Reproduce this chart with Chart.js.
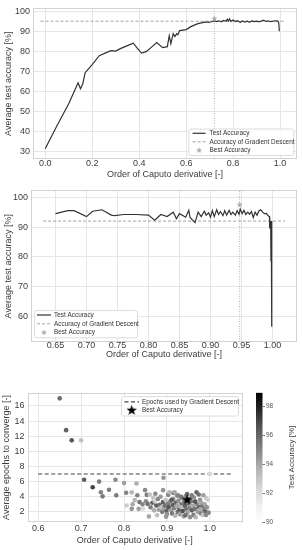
<!DOCTYPE html>
<html>
<head>
<meta charset="utf-8">
<script src="https://cdn.jsdelivr.net/npm/chart.js@4/dist/chart.umd.min.js"></script>
<style>
  html, body { margin: 0; padding: 0; background: #fff; }
  #wrap { position: relative; width: 302px; height: 550px; }
  canvas { position: absolute; left: 0; }
</style>
</head>
<body>
<div id="wrap">
  <canvas id="c1" width="302" height="182" style="top:0px"></canvas>
  <canvas id="c2" width="302" height="183" style="top:182px"></canvas>
  <canvas id="c3" width="302" height="185" style="top:365px"></canvas>
</div>
<script>
// ---- panel 1: accuracy vs order, full range ----
const order1 = [0.00, 0.05, 0.10, 0.14, 0.15, 0.16, 0.17, 0.20, 0.23, 0.26, 0.28, 0.30, 0.32, 0.35, 0.375, 0.39, 0.41, 0.43, 0.45, 0.475, 0.50, 0.52, 0.528, 0.535, 0.545, 0.552, 0.56, 0.565, 0.572, 0.60, 0.62, 0.65, 0.68, 0.70, 0.72, 0.73, 0.74, 0.75, 0.76, 0.77, 0.775, 0.78, 0.785, 0.79, 0.80, 0.81, 0.82, 0.83, 0.84, 0.85, 0.86, 0.87, 0.88, 0.89, 0.90, 0.91, 0.92, 0.93, 0.94, 0.95, 0.96, 0.97, 0.98, 0.99, 0.994, 0.997];
const acc1 = [31.5, 43.0, 54.0, 64.5, 61.5, 64.0, 69.5, 73.5, 78.0, 79.5, 80.5, 80.3, 81.5, 83.0, 84.2, 82.0, 79.3, 80.0, 82.0, 84.5, 82.0, 82.5, 88.0, 84.0, 89.0, 87.5, 89.0, 88.5, 90.5, 91.0, 92.5, 94.0, 94.7, 94.7, 95.3, 95.0, 95.4, 94.9, 95.6, 95.2, 96.2, 95.3, 96.4, 95.1, 95.8, 95.0, 95.5, 94.6, 95.3, 94.8, 95.2, 94.7, 95.4, 95.0, 95.2, 94.9, 95.3, 95.7, 95.1, 95.3, 95.0, 95.2, 95.4, 95.3, 94.6, 90.2];
const gdAcc1 = 95.2;
const best1 = { x: 0.72, y: 96.5 };
const xTicks1 = [0.0, 0.2, 0.4, 0.6, 0.8, 1.0];
const yTicks1 = [30, 40, 50, 60, 70, 80, 90, 100];

// ---- panel 2: accuracy vs order, 0.65 - 1.0 ----
const order2 = [0.65, 0.67, 0.68, 0.70, 0.71, 0.725, 0.74, 0.745, 0.76, 0.78, 0.80, 0.81, 0.82, 0.83, 0.84, 0.845, 0.85, 0.86, 0.865, 0.867, 0.875, 0.88, 0.885, 0.89, 0.893, 0.897, 0.90, 0.903, 0.906, 0.91, 0.913, 0.916, 0.92, 0.923, 0.926, 0.93, 0.933, 0.936, 0.94, 0.943, 0.946, 0.948, 0.951, 0.954, 0.957, 0.96, 0.963, 0.966, 0.969, 0.972, 0.975, 0.978, 0.981, 0.984, 0.987, 0.99, 0.993, 0.995, 0.9955, 0.997, 0.9975, 0.998, 0.9985, 0.999];
const acc2 = [94.5, 95.5, 95.5, 93.5, 95.3, 95.8, 94.0, 93.8, 94.2, 94.2, 94.0, 92.3, 94.2, 93.5, 95.0, 92.8, 94.5, 93.3, 95.6, 93.2, 91.5, 95.0, 93.5, 95.3, 94.0, 94.8, 93.3, 95.5, 93.5, 95.8, 94.2, 95.2, 93.8, 95.5, 94.0, 95.6, 94.2, 95.0, 94.0, 95.5, 94.3, 96.0, 94.5, 95.6, 94.2, 95.0, 94.3, 95.2, 93.2, 95.0, 94.0, 95.4, 95.8, 95.0, 94.5, 94.6, 93.8, 93.5, 89.5, 92.0, 78.5, 92.0, 80.0, 56.5];
const gdAcc2 = 92.0;
const best2 = { x: 0.947, y: 97.5 };
const xTicks2 = [0.65, 0.70, 0.75, 0.80, 0.85, 0.90, 0.95, 1.00];
const yTicks2 = [60, 70, 80, 90, 100];

// ---- panel 3: epochs to converge, coloured by accuracy ----
const order3 = [0.650, 0.665, 0.678, 0.700, 1.000, 0.707, 0.727, 0.742, 0.746, 0.750, 0.765, 0.780, 0.782, 0.800, 0.805, 0.829, 0.892, 0.818, 0.831, 0.849, 0.853, 0.868, 0.891, 0.903, 0.915, 0.926, 0.969, 0.992,
  0.806, 0.818, 0.820, 0.825, 0.836, 0.844, 0.851, 0.855, 0.858, 0.862, 0.866, 0.870, 0.872, 0.875, 0.877, 0.879, 0.881, 0.883, 0.885, 0.887, 0.889, 0.891, 0.893, 0.895, 0.897, 0.899, 0.900, 0.902, 0.904, 0.906, 0.908, 0.910, 0.912, 0.913, 0.915, 0.917, 0.919, 0.920, 0.922, 0.924, 0.925, 0.927, 0.929, 0.930, 0.932, 0.934, 0.936, 0.937, 0.939, 0.940, 0.942, 0.944, 0.945, 0.948, 0.950, 0.952, 0.954, 0.956, 0.958, 0.960, 0.962, 0.963, 0.965, 0.967, 0.970, 0.972, 0.974, 0.975, 0.977, 0.979, 0.980, 0.982, 0.984, 0.986, 0.988, 0.990, 0.993, 0.995, 0.997,
  0.860, 0.873, 0.918, 0.933, 0.947, 0.958, 0.985, 0.843, 0.834, 0.898, 0.943, 0.926, 0.911, 0.953, 0.966, 0.978, 0.991];
const epochs3 = [17.0, 12.8, 11.45, 11.45, 7.0, 6.25, 5.25, 6.0, 4.6, 4.05, 4.92, 6.25, 4.18, 5.8, 4.52, 5.75, 6.5, 4.58, 4.2, 4.87, 4.25, 3.87, 4.87, 4.25, 4.5, 4.2, 4.58, 3.76,
  2.85, 2.40, 3.00, 3.55, 3.30, 2.44, 3.40, 3.05, 1.40, 2.60, 3.20, 2.20, 3.45, 2.85, 1.55, 3.70, 2.30, 2.95, 4.00, 2.60, 2.00, 3.30, 2.45, 2.85, 3.55, 2.10, 1.70, 3.05, 2.60, 4.60, 3.40, 2.25, 1.80, 2.90, 3.70, 2.50, 1.50, 3.20, 2.70, 4.15, 2.00, 3.50, 2.30, 1.70, 3.00, 2.60, 3.80, 2.10, 1.40, 3.30, 2.80, 4.10, 2.40, 1.90, 3.10, 2.50, 1.30, 3.40, 2.20, 2.80, 1.60, 3.90, 2.40, 1.30, 3.00, 2.00, 4.30, 2.60, 3.60, 1.80, 3.20, 2.70, 1.60, 2.30, 3.00, 2.00, 2.60, 3.60, 1.90,
  4.30, 4.40, 4.60, 4.00, 4.35, 4.20, 4.20, 3.00, 2.40, 1.35, 1.55, 2.95, 3.60, 3.70, 3.35, 2.35, 1.60];
const testAcc3 = [95.8, 96.2, 96.5, 93.2, 92.3, 96.3, 97.0, 95.2, 95.0, 95.3, 95.2, 94.8, 95.3, 94.2, 95.0, 93.8, 94.5, 93.5, 95.0, 94.8, 95.2, 93.0, 94.5, 95.0, 95.2, 94.8, 96.0, 93.0,
  92.8, 94.5, 94.0, 93.5, 95.5, 92.2, 94.8, 95.6, 94.0, 95.2, 96.0, 93.8, 92.6, 96.2, 93.2, 95.0, 94.2, 95.8, 94.4, 93.0, 95.2, 96.4, 94.0, 95.6, 93.2, 96.2, 94.6, 95.2, 96.6, 93.6, 95.0, 94.2, 95.4, 96.2, 94.6, 95.2, 93.6, 96.0, 94.0, 95.0, 95.6, 94.6, 96.2, 94.2, 95.6, 93.4, 95.0, 96.6, 94.0, 95.2, 96.2, 94.6, 95.6, 94.2, 96.0, 95.0, 94.6, 95.6, 96.2, 94.0, 95.2, 94.6, 95.6, 93.6, 95.0, 94.2, 95.6, 96.2, 94.6, 95.2, 94.0, 95.6, 93.0, 95.2, 94.0, 96.2, 94.6, 92.6, 95.0,
  93.2, 94.8, 94.0, 95.4, 96.0, 95.2, 94.2, 95.0, 94.2, 94.4, 95.8, 93.8, 96.4, 95.4, 96.6, 93.8, 94.8];
const gdEpochs3 = 7;
const best3 = { x: 0.947, y: 3.6 };
const xTicks3 = [0.6, 0.7, 0.8, 0.9, 1.0];
const yTicks3 = [2, 4, 6, 8, 10, 12, 14, 16];
const cbTicks = [90, 92, 94, 96, 98];
const cbMin = 90, cbMax = 98.9;

// ---- shared look ----
const FONT = '"Liberation Sans", Arial, sans-serif';
Chart.defaults.font.family = FONT;
Chart.defaults.color = '#3c3c3c';
Chart.defaults.animation = false;
const GRID = '#e6e6e6', EDGE = '#d2d2d2';

// matplotlib "Greys"
const greys = [255, 240, 217, 189, 150, 115, 82, 37, 0];
function grey(acc) {
  let t = Math.min(1, Math.max(0, (acc - cbMin) / (cbMax - cbMin))) * (greys.length - 1);
  const i = Math.min(greys.length - 2, Math.floor(t));
  const g = Math.round(greys[i] + (greys[i + 1] - greys[i]) * (t - i));
  return `rgb(${g},${g},${g})`;
}

function makeStar(r, fill) {
  const c = document.createElement('canvas');
  c.width = c.height = Math.ceil(2 * r + 2);
  const g = c.getContext('2d');
  const cx = c.width / 2, cy = c.height / 2;
  g.beginPath();
  for (let i = 0; i < 10; i++) {
    const rr = i % 2 ? r * 0.42 : r;
    const a = -Math.PI / 2 + i * Math.PI / 5;
    g.lineTo(cx + rr * Math.cos(a), cy + rr * Math.sin(a));
  }
  g.closePath();
  g.fillStyle = fill;
  g.fill();
  return c;
}

const xy = (xs, ys) => xs.map((x, i) => ({ x, y: ys[i] }));
const setTicks = vals => s => { s.ticks = vals.map(v => ({ value: v })); };

function xAxis(min, max, ticks, dec, h, tickPad, titlePad) {
  return {
    type: 'linear', min, max,
    afterBuildTicks: setTicks(ticks),
    afterFit: s => { s.height = h; },
    grid: { color: GRID, drawTicks: false },
    border: { display: false },
    ticks: { padding: tickPad, font: { size: 9 }, autoSkip: false, maxRotation: 0, callback: v => v.toFixed(dec) },
    title: { display: true, text: 'Order of Caputo derivative [-]', font: { size: 9 }, padding: { top: 0, bottom: titlePad } }
  };
}
function yAxis(min, max, ticks, title, w, titlePad) {
  return {
    type: 'linear', min, max,
    afterBuildTicks: setTicks(ticks),
    afterFit: s => { s.width = w; },
    grid: { color: GRID, drawTicks: false },
    border: { display: false },
    ticks: { padding: 3, font: { size: 9 } },
    title: { display: true, text: title, font: { size: 9 }, padding: { top: titlePad, bottom: 0 } }
  };
}

const frame = {
  id: 'frame',
  beforeDatasetsDraw(chart) {
    const a = chart.chartArea, ctx = chart.ctx;
    ctx.save();
    ctx.strokeStyle = EDGE;
    ctx.lineWidth = 1;
    ctx.strokeRect(Math.round(a.left) + 0.5, Math.round(a.top) + 0.5, Math.round(a.right - a.left) - 1, Math.round(a.bottom - a.top) - 1);
    ctx.restore();
  }
};

// legend box inside the plot
const boxLegend = {
  id: 'boxLegend',
  afterDraw(chart, args, o) {
    if (!o || !o.w) return;
    const a = chart.chartArea, ctx = chart.ctx;
    const x = o.corner[1] === 'l' ? a.left + o.dx : a.right - o.dx - o.w;
    const y = o.corner[0] === 't' ? a.top + o.dy : a.bottom - o.dy - o.h;
    ctx.save();
    ctx.fillStyle = 'rgba(255,255,255,0.85)';
    ctx.strokeStyle = '#dcdcdc';
    ctx.lineWidth = 1;
    ctx.beginPath();
    ctx.roundRect(x + 0.5, y + 0.5, o.w, o.h, 2);
    ctx.fill();
    ctx.stroke();
    ctx.font = `${o.size}px ${FONT}`;
    ctx.textBaseline = 'middle';
    const items = chart.data.datasets.filter(d => d.label);
    items.forEach((d, i) => {
      const ry = y + o.first + i * o.row;
      if (d.showLine) {
        ctx.strokeStyle = d.borderColor;
        ctx.lineWidth = d.borderWidth;
        ctx.setLineDash(d.borderDash || []);
        ctx.beginPath();
        ctx.moveTo(x + o.s0, ry);
        ctx.lineTo(x + o.s1, ry);
        ctx.stroke();
        ctx.setLineDash([]);
      } else {
        Chart.helpers.drawPoint(ctx, { pointStyle: d.pointStyle, radius: 3, rotation: 0, borderWidth: 0 }, x + (o.s0 + o.s1) / 2, ry);
      }
      ctx.fillStyle = '#333';
      ctx.fillText(d.label, x + o.tx, ry);
    });
    ctx.restore();
  }
};

const colorbar = {
  id: 'colorbar',
  afterDraw(chart) {
    const cb = chart.scales.cb;
    if (!cb) return;
    const ctx = chart.ctx, a = chart.chartArea;
    const x0 = a.right + 14, w = 6.5;
    const y0 = cb.getPixelForValue(cbMin), y1 = cb.getPixelForValue(cbMax);
    const grad = ctx.createLinearGradient(0, y0, 0, y1);
    greys.forEach((g, i) => grad.addColorStop(i / (greys.length - 1), `rgb(${g},${g},${g})`));
    ctx.save();
    ctx.fillStyle = grad;
    ctx.fillRect(x0, y1, w, y0 - y1);
    ctx.strokeStyle = '#555';
    ctx.lineWidth = 0.8;
    cbTicks.forEach(v => {
      const y = Math.round(cb.getPixelForValue(v)) + 0.5;
      ctx.beginPath();
      ctx.moveTo(x0 + w, y);
      ctx.lineTo(x0 + w + 2.5, y);
      ctx.stroke();
    });
    ctx.translate(291.5, (a.top + a.bottom) / 2);
    ctx.rotate(-Math.PI / 2);
    ctx.font = `8px ${FONT}`;
    ctx.fillStyle = '#3c3c3c';
    ctx.textAlign = 'center';
    ctx.textBaseline = 'middle';
    ctx.fillText('Test Accuracy [%]', 0, 0);
    ctx.restore();
  }
};

const starGrey = makeStar(3.2, '#a8a8a8');
const starBlack = makeStar(5.5, '#000');

// ---- chart 1 ----
new Chart(document.getElementById('c1'), {
  type: 'scatter',
  data: {
    datasets: [
      { label: 'Test Accuracy', data: xy(order1, acc1), showLine: true, borderColor: '#333', borderWidth: 1.2, pointRadius: 0, order: 0 },
      { label: 'Accuracy of Gradient Descent', data: [{ x: -0.02, y: gdAcc1 }, { x: 1.02, y: gdAcc1 }], showLine: true, borderColor: '#999', borderWidth: 0.9, borderDash: [3, 2], pointRadius: 0, order: 2 },
      { label: 'Best Accuracy', data: [best1], pointStyle: starGrey, pointRadius: 3, order: 1 },
      { data: [{ x: best1.x, y: 26.4 }, { x: best1.x, y: 101.6 }], showLine: true, borderColor: '#aaa', borderWidth: 0.9, borderDash: [1, 1.5], pointRadius: 0, order: 3 }
    ]
  },
  options: {
    responsive: false,
    layout: { padding: { top: 4, right: 5, left: 0, bottom: 0 } },
    scales: {
      x: xAxis(-0.052, 1.072, xTicks1, 1, 23, -1, 2),
      y: yAxis(26.4, 101.6, yTicks1, 'Average test accuracy [%]', 33, 3.5)
    },
    plugins: {
      legend: { display: false }, tooltip: { enabled: false },
      boxLegend: { corner: 'br', dx: 3.7, dy: 4, w: 105, h: 26.5, first: 4.8, row: 8.5, s0: 4.3, s1: 17.3, tx: 21.3, size: 6.4 }
    }
  },
  plugins: [frame, boxLegend]
});

// ---- chart 2 ----
new Chart(document.getElementById('c2'), {
  type: 'scatter',
  data: {
    datasets: [
      { label: 'Test Accuracy', data: xy(order2, acc2), showLine: true, borderColor: '#333', borderWidth: 1.2, pointRadius: 0, order: 0 },
      { label: 'Accuracy of Gradient Descent', data: [{ x: 0.63, y: gdAcc2 }, { x: 1.02, y: gdAcc2 }], showLine: true, borderColor: '#999', borderWidth: 0.9, borderDash: [3, 2], pointRadius: 0, order: 2 },
      { label: 'Best Accuracy', data: [best2], pointStyle: starGrey, pointRadius: 3, order: 1 },
      { data: [{ x: best2.x, y: 51.4 }, { x: best2.x, y: 102.3 }], showLine: true, borderColor: '#aaa', borderWidth: 0.9, borderDash: [1, 1.5], pointRadius: 0, order: 3 }
    ]
  },
  options: {
    responsive: false,
    layout: { padding: { top: 6, right: 5, left: 0, bottom: 0 } },
    scales: {
      x: xAxis(0.6105, 1.0395, xTicks2, 2, 23, -1.5, 5.3),
      y: yAxis(51.4, 102.3, yTicks2, 'Average test accuracy [%]', 31, 3.5)
    },
    plugins: {
      legend: { display: false }, tooltip: { enabled: false },
      boxLegend: { corner: 'bl', dx: 3, dy: 4.7, w: 103, h: 27.3, first: 5, row: 8.8, s0: 3, s1: 17, tx: 20, size: 6.4 }
    }
  },
  plugins: [frame, boxLegend]
});

// ---- chart 3 ----
new Chart(document.getElementById('c3'), {
  type: 'scatter',
  data: {
    datasets: [
      { label: 'Epochs used by Gradient Descent', data: [{ x: 0.6, y: gdEpochs3 }, { x: 1.05, y: gdEpochs3 }], showLine: true, borderColor: '#444', borderWidth: 1.1, borderDash: [4, 2.5], pointRadius: 0, order: 2 },
      { label: 'Best Accuracy', data: [best3], pointStyle: starBlack, pointRadius: 5.5, order: 0 },
      { data: xy(order3, epochs3), pointRadius: 2.3, pointBorderWidth: 0, pointBackgroundColor: testAcc3.map(grey), order: 1 }
    ]
  },
  options: {
    responsive: false,
    layout: { padding: { top: 5, right: 0, left: 0, bottom: 0 } },
    scales: {
      x: xAxis(0.575, 1.075, xTicks3, 1, 25, 1, 1),
      y: yAxis(0.64, 17.73, yTicks3, 'Average epochs to converge [-]', 27.5, 1.5),
      cb: {
        type: 'linear', axis: 'y', position: 'right', min: cbMin, max: cbMax,
        afterBuildTicks: setTicks(cbTicks),
        afterFit: s => { s.width = 60; },
        grid: { display: false, drawTicks: false },
        border: { display: false },
        ticks: { padding: 24, font: { size: 6.4 }, color: '#555' }
      }
    },
    plugins: {
      legend: { display: false }, tooltip: { enabled: false },
      boxLegend: { corner: 'tr', dx: 4, dy: 3.3, w: 117, h: 19.4, first: 5.7, row: 8.5, s0: 3.5, s1: 18, tx: 21, size: 6.4 }
    }
  },
  plugins: [frame, boxLegend, colorbar]
});
</script>
</body>
</html>
